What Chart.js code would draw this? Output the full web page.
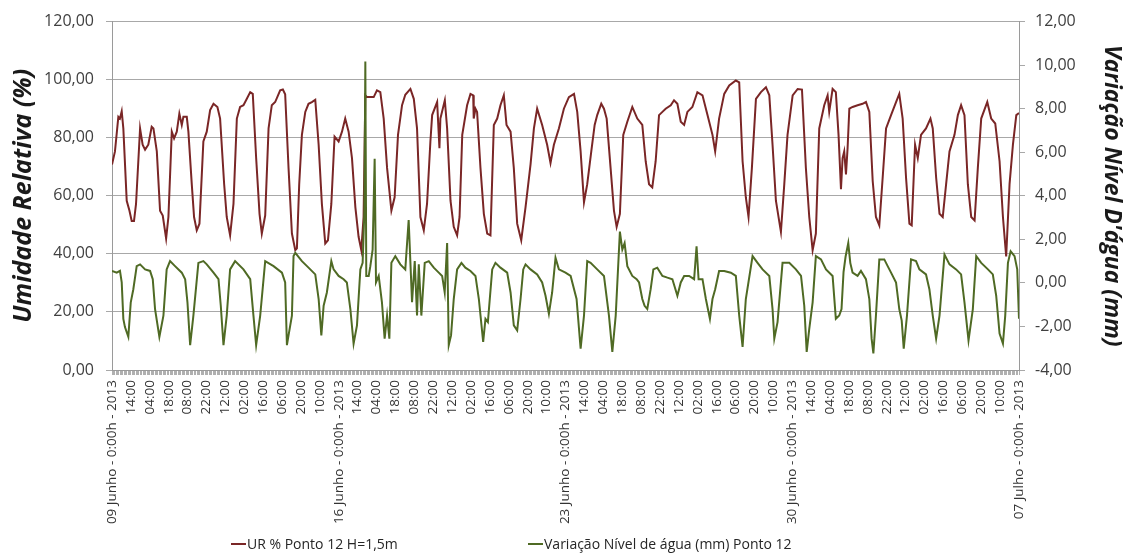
<!DOCTYPE html>
<html lang="pt">
<head>
<meta charset="utf-8">
<title>UR e Variação Nível de água - Ponto 12</title>
<script src="https://cdn.jsdelivr.net/npm/chart.js@4.4.0/dist/chart.umd.min.js"></script>
<style>
    html, body { margin: 0; padding: 0; background: #ffffff; }
    #box { width: 1127px; height: 555px; }
</style>
</head>
<body>
<div id="box"><canvas id="grafico" width="1127" height="555"></canvas></div>
<script>
// rótulos do eixo X (a cada 14 horas, de 09 Junho até 07 Julho)
const rotulosX = [
    '09 Junho - 0:00h - 2013', '14:00', '04:00', '18:00', '08:00', '22:00', '12:00', '02:00', '16:00', '06:00', '20:00', '10:00',
    '16 Junho - 0:00h - 2013', '14:00', '04:00', '18:00', '08:00', '22:00', '12:00', '02:00', '16:00', '06:00', '20:00', '10:00',
    '23 Junho - 0:00h - 2013', '14:00', '04:00', '18:00', '08:00', '22:00', '12:00', '02:00', '16:00', '06:00', '20:00', '10:00',
    '30 Junho - 0:00h - 2013', '14:00', '04:00', '18:00', '08:00', '22:00', '12:00', '02:00', '16:00', '06:00', '20:00', '10:00',
    '07 Julho - 0:00h - 2013'
]

// UR % Ponto 12 H=1,5m  (horas desde 09/06 0:00h)
const urHoras = [
    0, 2.2, 4.7, 5.9, 7.2, 8.4, 10.9, 12.9, 14.6, 16.3, 17.8, 20.8, 22.7, 24.5, 26.9, 29.4, 30.7, 33.2, 35.6, 37.6,
    40.1, 41.8, 44.3, 46, 48, 49.9, 51.7, 52.9, 55.4, 56.6, 59.1, 60.8, 62.8, 64.8, 67.7, 70.2, 72.7, 75.2, 78.1, 80.1,
    83.1, 85, 87.5, 90, 92.5, 94.9, 97.4, 99.9, 102.4, 104.3, 106.8, 109.3, 111, 113.5, 116, 118.4, 120.9, 124.6, 126.6, 128.3,
    130.8, 133.3, 135.8, 137, 138.7, 140.7, 143.2, 145.6, 148.1, 150.6, 153.1, 155.5, 158, 160, 162.5, 164.9, 167.9, 170.4, 172.8, 175.3,
    177.8, 180.3, 182.7, 184.7, 186.4, 187.7, 188.9, 193.9, 196.3, 198.8, 201.3, 203.8, 207, 209.4, 211.9, 214.9, 217.3, 221.1, 223.6, 226,
    228.5, 231, 233.4, 235.9, 237.2, 240.9, 242.6, 243.3, 246.6, 248.3, 250.8, 253.2, 255.7, 257.5, 259.5, 263.1, 265.6, 267.6, 268, 269.3,
    270.5, 273, 275.5, 278, 280.4, 282.9, 285.4, 287.8, 290.3, 292.3, 295.3, 297.7, 300.2, 303.2, 306.4, 310.1, 312.6, 315, 318.7, 322.4,
    324.9, 327.4, 331.1, 334.8, 338.5, 342.3, 344.7, 347.2, 349.7, 352.1, 355.1, 357.6, 359.5, 362.5, 364.5, 366.5, 369.4, 371.9, 373.9, 376.3,
    378.8, 381.8, 385.5, 389.2, 392.9, 395.4, 397.9, 400.3, 402.8, 405.3, 407.8, 410.2, 414, 416.4, 418.9, 421.4, 423.9, 426.3, 430, 433.7,
    437.5, 441.2, 444.9, 446.9, 449.8, 453.6, 457.3, 462.2, 464.7, 467.2, 469.6, 471.6, 474.1, 477.1, 480.8, 484.5, 487, 489.4, 491.9, 495.6,
    498.1, 500.5, 504.3, 508, 511.2, 514.1, 516.6, 519.1, 521.5, 524, 527.7, 530.2, 531.4, 533.9, 536.3, 538.3, 540.1, 541.3, 542.5, 543.8,
    545, 546.3, 548.7, 552.4, 556.1, 558.6, 561.1, 563.6, 566, 568.5, 571, 573.5, 577.2, 580.9, 583.3, 585.8, 588.3, 590.8, 592.5, 595,
    597, 599.4, 603.1, 606.4, 608.1, 610.6, 613.1, 615.5, 618, 620.5, 624.2, 626.7, 629.1, 631.6, 634.1, 636.6, 639.1, 641.5, 644, 648.5,
    651.4, 654.4, 657.6, 660.1, 662.5, 665, 667.5, 670, 672
]
const urValores = [
    70.8, 75.3, 87.2, 86.6, 89.1, 83.2, 58.3, 54.9, 51.3, 51.3, 57.2, 83.2, 77.6, 75.9, 77.6, 83.8, 83.2, 75.3, 54.9, 53.2,
    45.3, 52.7, 82.1, 79.8, 82.1, 88.3, 84.4, 87.2, 87.2, 82.1, 64, 52.7, 48.1, 50.4, 78.7, 82.1, 89.5, 91.7, 90.6, 86.6,
    64, 52.7, 46.4, 57.2, 86.6, 90.6, 91.2, 93.4, 95.7, 95.1, 73, 53.8, 47, 53.2, 83.2, 91.2, 92.3, 96.3, 96.6, 95,
    69.6, 47, 41.3, 41.9, 64, 81, 88.9, 91.7, 92.3, 93.1, 77.6, 57.2, 43.6, 44.7, 57.2, 80.4, 78.7, 82.1, 86.6, 82.1,
    73, 56.1, 45.9, 41.3, 52.7, 94.6, 94, 94, 96.3, 95.7, 86.6, 69.6, 54.9, 59.5, 81, 91.2, 94.8, 96.8, 93.4, 83.2,
    52.7, 48.1, 57.2, 78.7, 87.8, 92.3, 76.4, 86.6, 92.9, 83.2, 58.3, 49.3, 46.4, 52.7, 81, 91.2, 95.1, 94.6, 86.6, 90,
    88.9, 69.6, 53.8, 47, 46.4, 84.4, 86.6, 91.2, 94.6, 84.4, 82.1, 69.6, 50.4, 44.7, 56.1, 70.8, 83.2, 90, 84.4, 77.6,
    71.3, 77.6, 83.2, 90, 94, 95.1, 88.9, 75.3, 57.8, 64, 75.3, 84.4, 87.8, 91.7, 90, 86.6, 69.6, 54.9, 49.3, 53.8,
    81, 85.5, 90.6, 86.6, 84.4, 71.9, 64, 62.9, 71.9, 87.8, 88.9, 90, 91.2, 92.9, 91.7, 85.5, 84.4, 88.9, 90.6, 95.7,
    94.6, 87.8, 81, 75.3, 86.6, 95.1, 98, 99.7, 99.1, 71.9, 59.5, 52.7, 69.6, 93.4, 95.7, 97.4, 94.6, 77.6, 58.3, 47.6,
    64, 81, 94.6, 96.8, 96.6, 69.6, 52.7, 41.3, 47, 83.2, 91.2, 94.6, 88.9, 96.8, 95.7, 81, 62.3, 73, 75.3, 67.4,
    76.4, 90, 90.6, 91.2, 91.7, 92.3, 88.9, 65.1, 52.7, 49.8, 66.3, 83.2, 87.8, 92.3, 95.1, 86.6, 66.3, 50.4, 49.8, 77.6,
    73, 81, 83.2, 86.6, 83.2, 66.3, 53.8, 52.7, 64, 75.3, 81, 87.8, 91.2, 87.8, 64, 52.7, 51.5, 69.6, 86.6, 92.3,
    86.6, 84.9, 71.9, 52.7, 39.1, 64, 77.6, 87.8, 88.5
]

// Variação Nível de água (mm) Ponto 12
const nivelHoras = [
    0, 3.5, 5.9, 7.2, 8.4, 9.6, 12.1, 13.9, 15.8, 18.3, 20.8, 24.5, 28.2, 30.2, 31.9, 35.1, 38.1, 40.5, 43, 46.7,
    51.7, 54.2, 55.9, 57.9, 60.3, 64, 67.7, 70.2, 75.2, 78.9, 80.6, 82.6, 85, 87.5, 91.2, 97.4, 102.4, 104.8, 106.8, 109.8,
    113.5, 119.7, 125.9, 128.3, 129.6, 130.8, 133.3, 134.5, 135.8, 140.7, 145.6, 150.6, 153.1, 155.1, 156.8, 159.2, 162.5, 164.2, 167.9, 171.6,
    174, 176.6, 179, 181.5, 184, 185.7, 187, 187.7, 188.4, 190.2, 191.4, 193.1, 194.6, 195.6, 197.6, 200, 202, 203.8, 205.5, 207,
    209.9, 213.6, 217.3, 219.8, 221.1, 222.3, 224.3, 226, 227.3, 229.2, 231.7, 234.7, 238.4, 242.1, 244.6, 246.5, 248.3, 249.5, 251.2, 253.2,
    255.7, 258.9, 261.8, 265.6, 269.3, 271.8, 275, 276.7, 278.5, 281.7, 284.1, 287.8, 292.8, 295.3, 297.7, 300.2, 302.7, 304.7, 306.4, 310.1,
    315, 318.7, 321.2, 323.7, 326.1, 328.6, 331.1, 336, 339.8, 344.2, 347.2, 349.7, 352.1, 354.6, 359.5, 364.5, 368.2, 370.7, 373.2, 376.3,
    378.1, 379.8, 381.8, 385.5, 388.7, 390.5, 392.9, 394.6, 396.6, 399.1, 401.1, 404, 407.8, 411.5, 415.2, 418.9, 421.4, 423.9, 427.6, 431.3,
    433.1, 434.6, 437.5, 440, 443, 444.9, 446.9, 449.8, 453.6, 458.5, 462.2, 464.7, 467.2, 469.6, 474.6, 478.3, 482, 487, 489.4, 490.7,
    493.1, 496.8, 501.8, 506.7, 510.5, 512.9, 514.7, 516.6, 519.1, 521.5, 525.3, 529, 533.9, 536.3, 538.8, 540.5, 542, 543.5, 545.5, 547,
    548.7, 552.4, 554.9, 558.6, 561.1, 562.8, 564.1, 566, 568.5, 572.2, 574.7, 577.2, 580.9, 583.3, 585.1, 586.6, 589, 592, 595.7, 598.2,
    603.1, 605.6, 608.1, 610.6, 613.1, 616.8, 620.5, 625.4, 629.1, 631.6, 634.6, 637.8, 640.3, 644, 649, 652.6, 655.1, 657.6, 660.1, 661.8,
    663.8, 665.8, 668.7, 670.7, 672
]
const nivelValores = [
    0.55, 0.47, 0.55, 0.02, -1.65, -2.03, -2.48, -0.89, -0.29, 0.77, 0.85, 0.62, 0.55, 0.17, -1.2, -2.48, -1.5, 0.62, 1.0, 0.77,
    0.47, 0.17, -0.89, -2.86, -1.5, 0.92, 1.0, 0.85, 0.47, 0.17, -1.05, -2.86, -1.5, 0.62, 1.0, 0.62, 0.17, -1.5, -2.86, -1.5,
    1.0, 0.77, 0.47, 0.02, -2.86, -2.41, -1.5, 1.23, 1.38, 1.0, 0.7, 0.39, -0.74, -2.41, -1.05, -0.44, 1.0, 0.62, 0.32, 0.17,
    0.02, -1.2, -2.79, -1.95, 0.62, 0.92, 3.35, 10.17, 0.32, 0.32, 0.77, 1.53, 5.7, 0.02, 0.32, -0.89, -2.56, -1.5, -2.56, 0.92,
    1.23, 0.85, 0.62, 2.89, 0.92, -0.89, 1.0, -1.5, 0.85, -1.5, 0.92, 1.0, 0.7, 0.47, 0.32, -0.44, 1.83, -2.86, -2.41, -0.74,
    0.62, 0.92, 0.7, 0.55, 0.32, -0.74, -2.71, -1.65, -1.8, 0.62, 0.92, 0.7, 0.47, -0.44, -1.95, -2.18, -0.74, 0.62, 0.85, 0.62,
    0.39, 0.02, -0.59, -1.42, -0.44, 1.15, 0.62, 0.47, 0.32, -0.74, -3.02, -1.5, 1.0, 0.92, 0.62, 0.32, -1.5, -3.17, -1.5, 2.36,
    1.53, 1.83, 0.77, 0.32, 0.17, 0.02, -0.74, -1.05, -1.2, -0.29, 0.62, 0.7, 0.32, 0.24, 0.17, -0.59, 0.02, 0.32, 0.32, 0.17,
    1.68, 0.17, 0.17, -0.74, -1.65, -0.74, -0.29, 0.55, 0.55, 0.47, 0.32, -1.5, -2.94, -0.74, 1.23, 0.92, 0.62, 0.32, -1.2, -2.56,
    -1.8, 0.92, 0.92, 0.62, 0.32, -1.05, -3.17, -2.11, -0.89, 1.23, 1.08, 0.62, 0.32, -1.65, -1.5, -1.2, 0.5, 1.2, 1.83, 0.92,
    0.47, 0.32, 0.55, 0.17, -0.74, -2.56, -3.24, -1.5, 1.08, 1.08, 0.77, 0.47, 0.02, -1.2, -1.73, -3.02, -1.5, 1.08, 1.0, 0.62,
    0.39, -0.29, -1.5, -2.56, -1.5, 1.3, 0.85, 0.62, 0.39, -0.89, -2.64, -1.2, 1.23, 0.92, 0.62, 0.39, -0.59, -2.33, -2.79, -1.5,
    0.92, 1.45, 1.23, 0.62, -1.65
]

const corUR = '#7a2626'
const corNivel = '#4f6a24'
const fonte = '"Open Sans", "DejaVu Sans", sans-serif'

function formatoBR(v) {
    return v.toFixed(2).replace('.', ',')
}

// legenda desenhada embaixo, como no Excel
const legendaInferior = {
    id: 'legendaInferior',
    afterDraw(chart) {
        const ctx = chart.ctx
        const posicoes = [231, 528]
        ctx.save()
        ctx.font = `14px ${fonte}`
        ctx.textBaseline = 'middle'
        chart.data.datasets.forEach((ds, i) => {
            const x = posicoes[i]
            ctx.strokeStyle = ds.borderColor
            ctx.lineWidth = 2
            ctx.beginPath()
            ctx.moveTo(x, 544)
            ctx.lineTo(x + 15, 544)
            ctx.stroke()
            ctx.fillStyle = '#262626'
            ctx.fillText(ds.label, x + 16, 545)
        })
        ctx.restore()
    }
}

const ctx = document.getElementById('grafico').getContext('2d')
const grafico = new Chart(ctx, {
    type: 'line',
    data: {
        datasets: [
            {
                label: 'UR % Ponto 12 H=1,5m',
                data: urHoras.map((h, i) => ({ x: h, y: urValores[i] })),
                borderColor: corUR,
                borderWidth: 2,
                yAxisID: 'y',
                order: 2
            },
            {
                label: 'Variação Nível de água (mm) Ponto 12',
                data: nivelHoras.map((h, i) => ({ x: h, y: nivelValores[i] })),
                borderColor: corNivel,
                borderWidth: 2,
                yAxisID: 'y1',
                order: 1
            }
        ]
    },
    options: {
        responsive: false,
        animation: false,
        devicePixelRatio: 1,
        layout: { padding: { top: 15, left: 0, right: 0, bottom: 0 } },
        elements: {
            point: { radius: 0 },
            line: { tension: 0, fill: false }
        },
        plugins: {
            legend: { display: false },
            tooltip: { enabled: false }
        },
        scales: {
            x: {
                type: 'linear',
                min: 0,
                max: 672,
                ticks: {
                    stepSize: 1,
                    autoSkip: false,
                    minRotation: 90,
                    maxRotation: 90,
                    padding: 5,
                    color: '#333333',
                    font: { family: fonte, size: 13.5 },
                    callback: v => (v % 14 === 0 ? rotulosX[v / 14] : '')
                },
                grid: { drawOnChartArea: false, tickLength: 5, color: '#b0b0b0' },
                border: { color: '#9a9a9a' },
                afterFit: scale => { scale.height = 185 }
            },
            y: {
                position: 'left',
                min: 0,
                max: 120,
                ticks: {
                    stepSize: 20,
                    padding: 12,
                    color: '#404040',
                    font: { family: fonte, size: 16 },
                    callback: v => formatoBR(v)
                },
                grid: { color: '#a8a8a8', tickLength: 6 },
                border: { color: '#9a9a9a' },
                title: {
                    display: true,
                    text: 'Umidade Relativa (%)',
                    color: '#1a1a1a',
                    font: { family: fonte, size: 25, weight: 'bold', style: 'italic' },
                    padding: { top: 9, bottom: 0 }
                },
                afterFit: scale => { scale.width = 112 }
            },
            y1: {
                position: 'right',
                min: -4,
                max: 12,
                ticks: {
                    stepSize: 2,
                    padding: 10,
                    color: '#404040',
                    font: { family: fonte, size: 16 },
                    callback: v => formatoBR(v)
                },
                grid: { drawOnChartArea: false, color: '#a8a8a8', tickLength: 6 },
                border: { color: '#9a9a9a' },
                title: {
                    display: true,
                    text: 'Variação Nível D\'água (mm)',
                    color: '#1a1a1a',
                    font: { family: fonte, size: 23, weight: 'bold', style: 'italic' },
                    padding: { top: 2, bottom: 0 }
                },
                afterFit: scale => { scale.width = 108 }
            }
        }
    },
    plugins: [legendaInferior]
})
</script>
</body>
</html>
